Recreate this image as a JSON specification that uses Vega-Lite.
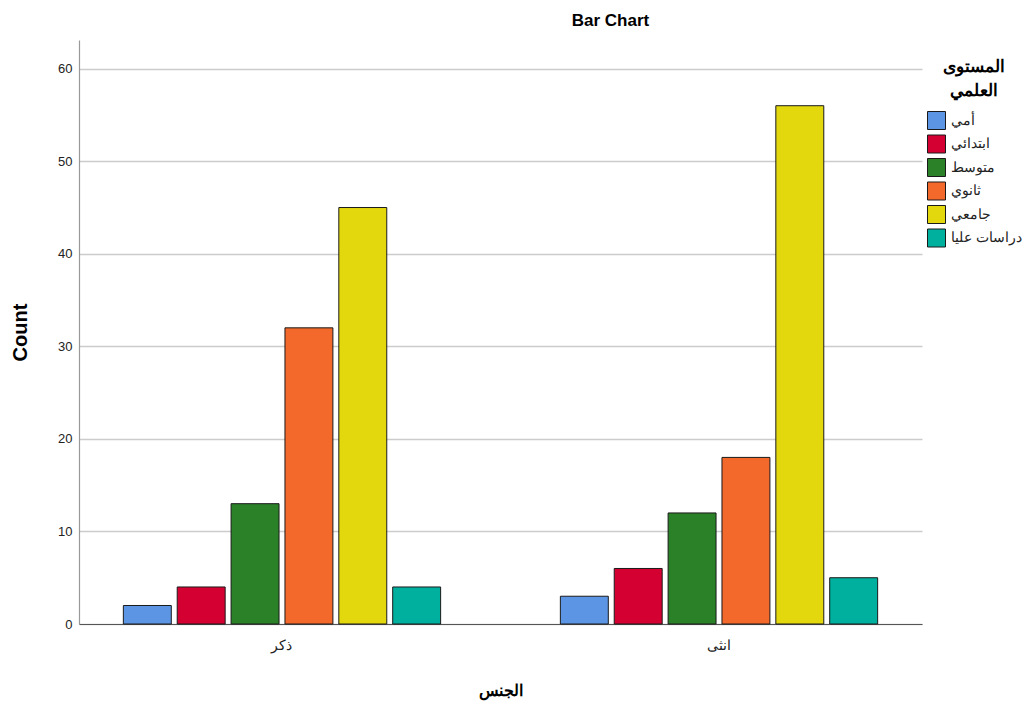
{
  "$schema": "https://vega.github.io/schema/vega-lite/v6.json",
  "autosize": {"type": "none"},
  "width": 843,
  "height": 584,
  "padding": {"left": 79, "top": 40, "right": 108, "bottom": 87},
  "background": "white",
  "config": {
    "font": "Liberation Sans",
    "view": {"stroke": null}
  },
  "title": {
    "text": "Bar Chart",
    "fontSize": 17,
    "fontWeight": "bold",
    "color": "#000000",
    "anchor": "middle",
    "dx": 110,
    "offset": 10
  },
  "data": {
    "values": [
      {"gender": "ذكر", "level": "أمي", "count": 2},
      {"gender": "ذكر", "level": "ابتدائي", "count": 4},
      {"gender": "ذكر", "level": "متوسط", "count": 13},
      {"gender": "ذكر", "level": "ثانوي", "count": 32},
      {"gender": "ذكر", "level": "جامعي", "count": 45},
      {"gender": "ذكر", "level": "دراسات عليا", "count": 4},
      {"gender": "انثى", "level": "أمي", "count": 3},
      {"gender": "انثى", "level": "ابتدائي", "count": 6},
      {"gender": "انثى", "level": "متوسط", "count": 12},
      {"gender": "انثى", "level": "ثانوي", "count": 18},
      {"gender": "انثى", "level": "جامعي", "count": 56},
      {"gender": "انثى", "level": "دراسات عليا", "count": 5}
    ]
  },
  "mark": {"type": "bar", "stroke": "#1a1a1a", "strokeWidth": 1},
  "encoding": {
    "x": {
      "field": "gender",
      "type": "nominal",
      "sort": ["ذكر", "انثى"],
      "scale": {"paddingInner": 0.2, "paddingOuter": 0.0645},
      "axis": {
        "title": "الجنس",
        "titleFontSize": 16,
        "titleFontWeight": "bold",
        "titleColor": "#000000",
        "titleY": 66,
        "titleBaseline": "middle",
        "labelAngle": 0,
        "labelFontSize": 14,
        "labelColor": "#222222",
        "labelPadding": 14,
        "ticks": false,
        "domainColor": "#555555",
        "domainWidth": 1.2,
        "grid": false
      }
    },
    "xOffset": {
      "field": "level",
      "type": "nominal",
      "sort": ["أمي", "ابتدائي", "متوسط", "ثانوي", "جامعي", "دراسات عليا"],
      "scale": {"paddingInner": 0.11, "paddingOuter": 0.3}
    },
    "y": {
      "field": "count",
      "type": "quantitative",
      "scale": {"domain": [0, 63.1], "nice": false, "zero": true},
      "axis": {
        "title": "Count",
        "titleFontSize": 20,
        "titleFontWeight": "bold",
        "titleColor": "#000000",
        "titleX": -59,
        "titleY": 292,
        "titleAngle": -90,
        "titleBaseline": "middle",
        "titleAlign": "center",
        "values": [0, 10, 20, 30, 40, 50, 60],
        "labelFontSize": 13,
        "labelColor": "#222222",
        "labelPadding": 7,
        "ticks": false,
        "domainColor": "#999999",
        "domainWidth": 1.2,
        "gridColor": "#cccccc",
        "gridWidth": 1.5
      }
    },
    "color": {
      "field": "level",
      "type": "nominal",
      "scale": {
        "domain": ["أمي", "ابتدائي", "متوسط", "ثانوي", "جامعي", "دراسات عليا"],
        "range": ["#5b95e3", "#d50032", "#2a8128", "#f2692b", "#e3d80e", "#00b09e"]
      },
      "legend": {
        "title": ["المستوى", "العلمي"],
        "titleFontSize": 17,
        "titleFontWeight": "bold",
        "titleColor": "#000000",
        "titleAnchor": "middle",
        "titleLineHeight": 24,
        "titlePadding": 11,
        "orient": "none",
        "legendX": 848,
        "legendY": 19,
        "symbolType": "square",
        "symbolSize": 324,
        "symbolStrokeColor": "#1a1a1a",
        "symbolStrokeWidth": 1,
        "symbolOpacity": 1,
        "labelFontSize": 14,
        "labelColor": "#222222",
        "rowPadding": 0.5,
        "labelOffset": 5
      }
    }
  }
}
